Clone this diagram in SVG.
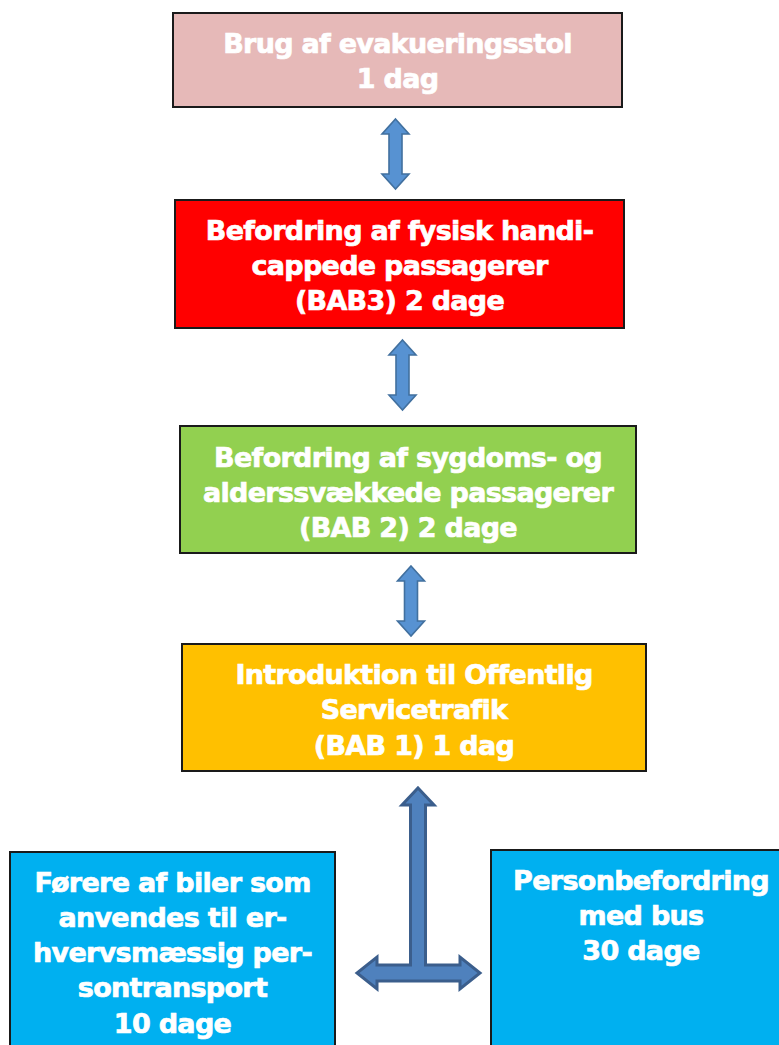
<svg xmlns="http://www.w3.org/2000/svg" width="779" height="1045" viewBox="0 0 779 1045">
<style>
.box{stroke:#1a1a1a;stroke-width:2}
.t{font-family:"DejaVu Sans",Verdana,sans-serif;font-weight:bold;font-size:27px;letter-spacing:-0.7px;fill:#ffffff;stroke:#ffffff;stroke-width:0.7;text-anchor:middle}
.arr{fill:#5792d2;stroke:#41709f;stroke-width:1.6;stroke-linejoin:miter}
.tarr{fill:#4f81bd;stroke:#3b5e8c;stroke-width:3;stroke-linejoin:miter}
</style>
<defs>
<path id="dbl" d="M0,0 l13.5,15 h-7 v40 h7 l-13.5,15 l-13.5,-15 h7 v-40 h-7 z"/>
</defs>
<rect width="779" height="1045" fill="#ffffff"/>
<g id="node-evak">
<rect class="box" x="173" y="13" width="449" height="94" fill="#e6b9b8"/>
<text class="t" x="397.5" y="53">Brug af evakueringsstol</text>
<text class="t" x="397.5" y="88">1 dag</text>
</g>
<g id="node-bab3">
<rect class="box" x="175" y="200" width="449" height="128" fill="#ff0000"/>
<text class="t" x="399.5" y="240">Befordring af fysisk handi-</text>
<text class="t" x="399.5" y="275">cappede passagerer</text>
<text class="t" x="399.5" y="310">(BAB3) 2 dage</text>
</g>
<g id="node-bab2">
<rect class="box" x="180" y="426" width="456" height="127" fill="#92d050"/>
<text class="t" x="408" y="467">Befordring af sygdoms- og</text>
<text class="t" x="408" y="502">alderssvækkede passagerer</text>
<text class="t" x="408" y="537">(BAB 2) 2 dage</text>
</g>
<g id="node-bab1">
<rect class="box" x="182" y="644" width="464" height="127" fill="#ffc000"/>
<text class="t" x="414" y="684">Introduktion til Offentlig</text>
<text class="t" x="414" y="719">Servicetrafik</text>
<text class="t" x="414" y="755">(BAB 1) 1 dag</text>
</g>
<g id="node-erhverv">
<rect class="box" x="10" y="852" width="325" height="200" fill="#00b0f0"/>
<text class="t" x="172.5" y="892">Førere af biler som</text>
<text class="t" x="172.5" y="927">anvendes til er-</text>
<text class="t" x="172.5" y="962">hvervsmæssig per-</text>
<text class="t" x="172.5" y="997">sontransport</text>
<text class="t" x="172.5" y="1033">10 dage</text>
</g>
<g id="node-bus">
<rect class="box" x="491" y="850" width="300" height="202" fill="#00b0f0"/>
<text class="t" x="641" y="890">Personbefordring</text>
<text class="t" x="641" y="925">med bus</text>
<text class="t" x="641" y="960">30 dage</text>
</g>
<g id="connectors">
<use href="#dbl" class="arr" x="395.5" y="119"/>
<use href="#dbl" class="arr" x="402.5" y="340"/>
<use href="#dbl" class="arr" x="411" y="566"/>
<path class="tarr" d="M418,788 L434,805 L425.5,805 L425.5,965 L460,965 L460,957 L480,973 L460,989 L460,981 L377,981 L377,989 L357,973 L377,957 L377,965 L410.5,965 L410.5,805 L402,805 Z"/>
</g>
</svg>
